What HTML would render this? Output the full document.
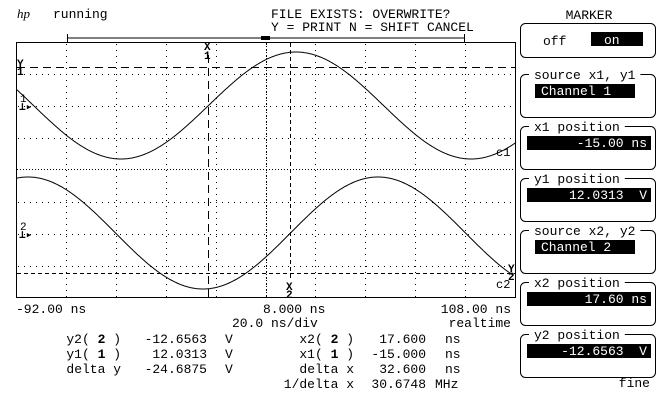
<!DOCTYPE html>
<html><head><meta charset="utf-8"><style>
html,body{margin:0;padding:0;background:#fff;}
svg{display:block;}
text{font-family:"Liberation Mono",monospace;font-size:13px;fill:#000;white-space:pre;}
.w{fill:#fff;}
</style></head><body>
<svg id="s" width="672" height="400" viewBox="0 0 672 400" xmlns="http://www.w3.org/2000/svg" xml:space="preserve">
<text x="17" y="18" style="font-style:italic;font-family:'Liberation Serif',serif;font-size:13px">hp</text>
<text x="53" y="18">running</text>
<text x="271" y="18">FILE EXISTS: OVERWRITE?</text>
<text x="271" y="31">Y = PRINT N = SHIFT CANCEL</text>
<line x1="67" y1="38" x2="465" y2="38" stroke="#000"/>
<line x1="67.5" y1="34" x2="67.5" y2="42" stroke="#000"/>
<line x1="464.5" y1="34" x2="464.5" y2="42" stroke="#000"/>
<rect x="261" y="36" width="9" height="4" fill="#000"/>
<rect x="16.5" y="42.5" width="499" height="255" fill="none" stroke="#000"/>
<g id="grid" stroke="#000" stroke-width="1" stroke-dasharray="1 5" fill="none"></g>
<line x1="17" y1="169.5" x2="515" y2="169.5" stroke="#000" stroke-dasharray="1 2"/>
<line x1="266.5" y1="43" x2="266.5" y2="297" stroke="#000" stroke-dasharray="1 2"/>
<line x1="17" y1="67.5" x2="515" y2="67.5" stroke="#000" stroke-dasharray="8 5"/>
<line x1="17" y1="273.5" x2="515" y2="273.5" stroke="#000" stroke-dasharray="4 3"/>
<line x1="208.5" y1="55" x2="208.5" y2="297" stroke="#000" stroke-dasharray="8 5"/>
<line x1="290.5" y1="43" x2="290.5" y2="280" stroke="#000" stroke-dasharray="4 3"/>
<text x="204" y="50" style="font-size:11px;font-weight:bold">X</text>
<text x="204" y="59" style="font-size:11px;font-weight:bold">1</text>
<text x="286" y="290" style="font-size:11px;font-weight:bold">X</text>
<text x="286" y="298" style="font-size:11px;font-weight:bold">2</text>
<text x="17" y="67" style="font-size:11px;font-weight:bold">Y</text>
<text x="17" y="75" style="font-size:11px;font-weight:bold">1</text>
<text x="508" y="272" style="font-size:11px;font-weight:bold">Y</text>
<text x="508" y="280" style="font-size:11px;font-weight:bold">2</text>
<text x="20" y="102" style="font-size:11px">1</text>
<text x="19" y="110" style="font-size:11px;font-weight:bold">⊥▸</text>
<text x="20" y="230" style="font-size:11px">2</text>
<text x="19" y="238" style="font-size:11px;font-weight:bold">⊥▸</text>
<text x="496" y="156" style="font-size:12px">c1</text>
<text x="496" y="288" style="font-size:12px">c2</text>
<polyline id="c1" fill="none" stroke="#000" stroke-width="1"/>
<polyline id="c2" fill="none" stroke="#000" stroke-width="1"/>

<text x="16" y="313">-92.00 ns</text>
<text x="263" y="313">8.000 ns</text>
<text x="511" y="313" text-anchor="end">108.00 ns</text>
<text x="232" y="327">20.0 ns/div</text>
<text x="511" y="327" text-anchor="end">realtime</text>
<g text-anchor="end">
<text x="121" y="343">y2( <tspan font-weight="bold">2</tspan> )</text>
<text x="121" y="358">y1( <tspan font-weight="bold">1</tspan> )</text>
<text x="121" y="373">delta y</text>
<text x="207" y="343">-12.6563</text>
<text x="207" y="358">12.0313</text>
<text x="207" y="373">-24.6875</text>
<text x="354" y="343">x2( <tspan font-weight="bold">2</tspan> )</text>
<text x="354" y="358">x1( <tspan font-weight="bold">1</tspan> )</text>
<text x="354" y="373">delta x</text>
<text x="354" y="388">1/delta x</text>
<text x="426" y="343">17.600</text>
<text x="426" y="358">-15.000</text>
<text x="426" y="373">32.600</text>
<text x="426" y="388">30.6748</text>
</g>
<text x="225" y="343">V</text><text x="225" y="358">V</text><text x="225" y="373">V</text>
<text x="445" y="343">ns</text><text x="445" y="358">ns</text><text x="445" y="373">ns</text><text x="435" y="388">MHz</text>

<text x="589" y="19" text-anchor="middle">MARKER</text>
<rect x="520.5" y="23.5" width="135" height="34" rx="5" fill="none" stroke="#000"/>
<text x="543" y="45">off</text>
<rect x="591" y="32" width="52" height="14" fill="#000"/>
<text x="604" y="44" class="w">on</text>
<g id="boxes"></g>
<text x="650" y="387" text-anchor="end">fine</text>
</svg>
<script>
var NS="http://www.w3.org/2000/svg";
var g=document.getElementById('grid');
for(var k=1;k<10;k++){var x=Math.round(16+49.9*k)+0.5;var l=document.createElementNS(NS,'line');l.setAttribute('x1',x);l.setAttribute('x2',x);l.setAttribute('y1',44);l.setAttribute('y2',297);g.appendChild(l);}
[74,106,138,202,234,266].forEach(function(y){var l=document.createElementNS(NS,'line');l.setAttribute('x1',18);l.setAttribute('x2',515);l.setAttribute('y1',y+.5);l.setAttribute('y2',y+.5);g.appendChild(l);});
var p1=[],p2=[];
for(var x=17;x<=516;x+=1){
 p1.push(x+','+(105.5-53.5*Math.cos(2*Math.PI*(x-296)/350)).toFixed(1));
 if(x<=513)p2.push(x+','+(233+56*Math.cos(2*Math.PI*(x-203)/350)).toFixed(1));
}
document.getElementById('c1').setAttribute('points',p1.join(' '));
document.getElementById('c2').setAttribute('points',p2.join(' '));
var bx=document.getElementById('boxes');
var items=[["source x1, y1","Channel 1",535,635,"l"],["x1 position","-15.00 ns",527,651,"r"],["y1 position","12.0313  V",527,651,"r"],["source x2, y2","Channel 2",535,635,"l"],["x2 position","17.60 ns",527,651,"r"],["y2 position","-12.6563  V",527,651,"r"]];
items.forEach(function(it,i){
 var ly=79+52*i;
 var r=document.createElementNS(NS,'rect');
 r.setAttribute('x',520.5);r.setAttribute('y',ly-4.5);r.setAttribute('width',135);r.setAttribute('height',43);r.setAttribute('rx',5);r.setAttribute('fill','none');r.setAttribute('stroke','#000');bx.appendChild(r);
 var bg=document.createElementNS(NS,'rect');bg.setAttribute('x',529);bg.setAttribute('y',ly-10);bg.setAttribute('width',it[0].length*7.8+10);bg.setAttribute('height',12);bg.setAttribute('fill','#fff');bx.appendChild(bg);
 var t=document.createElementNS(NS,'text');t.setAttribute('x',534);t.setAttribute('y',ly);t.textContent=it[0];bx.appendChild(t);
 var f=document.createElementNS(NS,'rect');f.setAttribute('x',it[2]);f.setAttribute('y',ly+5);f.setAttribute('width',it[3]-it[2]);f.setAttribute('height',14);f.setAttribute('fill','#000');bx.appendChild(f);
 var v=document.createElementNS(NS,'text');v.setAttribute('class','w');v.setAttribute('y',ly+16);
 if(it[4]=="l"){v.setAttribute('x',it[2]+6);}else{v.setAttribute('x',it[3]-4);v.setAttribute('text-anchor','end');}
 v.textContent=it[1];bx.appendChild(v);
});
</script>
</body></html>
